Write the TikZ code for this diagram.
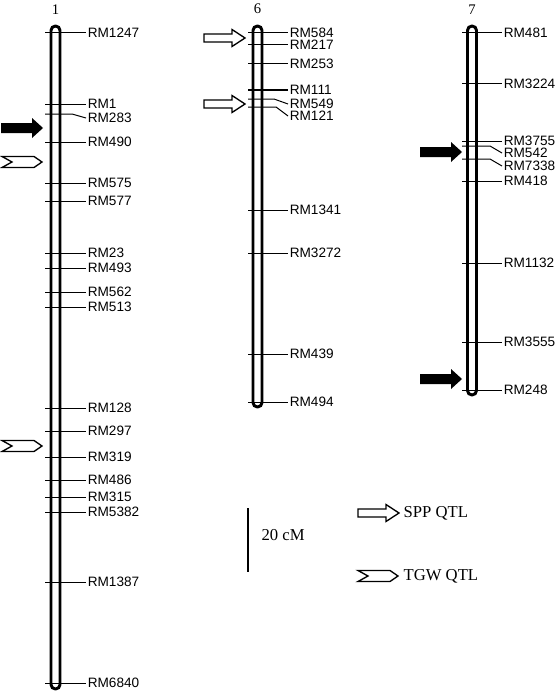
\documentclass[tikz,border=0pt]{standalone}
\usepackage{fontspec}
\setmainfont{Liberation Serif}
\newfontfamily\arialfont{Liberation Sans}
\usepackage{tikz}
\usetikzlibrary{calc}

\tikzset{
  blackqtl/.pic={\fill (-42,-5) -- (-11,-5) -- (-11,-10) -- (0,0) -- (-11,10) -- (-11,5) -- (-42,5) -- cycle;},
  sppqtl/.pic={\draw[line width=1pt] (-41,-4) -- (-13,-4) -- (-13,-8.5) -- (0,0) -- (-13,8.5) -- (-13,4) -- (-41,4) -- cycle;},
  tgwqtl/.pic={\draw[line width=1pt] (-40,-5.5) -- (-8,-5.5) -- (0,0) -- (-8,5.5) -- (-40,5.5) -- (-30,0) -- cycle;}
}

\begin{document}
\begin{tikzpicture}[x=0.75pt,y=-0.75pt,
  chrom/.style={line width=2.2pt,rounded corners=3.3pt},
  tick/.style={line width=0.75pt},
  mk/.style={anchor=west,inner sep=1pt,font=\arialfont\fontsize{10.2}{11}\selectfont},
  chnum/.style={font=\fontsize{11}{12}\selectfont,inner sep=0pt},
  legtext/.style={anchor=west,inner sep=1pt,font=\fontsize{12.5}{14}\selectfont}]
\useasboundingbox (0,0) rectangle (557,692);

% chromosome 1
\node[chnum] (n1) at (55.5,10) {1};
\draw[chrom] (51,26) rectangle (60,689);
\foreach \y/\m in {33/RM1247,104/RM1,142/RM490,183/RM575,201/RM577,253/RM23,268/RM493,
  292/RM562,307/RM513,408/RM128,431/RM297,457/RM319,480/RM486,497/RM315,512/RM5382,
  582/RM1387,683/RM6840}
  \draw[tick] (45,\y) -- (86,\y) node[mk] (c1-\m) {\m};
\draw[tick] (45,114) -- (72,114) -- (86,118) node[mk] (c1-RM283) {RM283};
\pic at (43,128) {blackqtl};
\pic at (42,162) {tgwqtl};
\pic at (42,446) {tgwqtl};

% chromosome 6
\node[chnum] (n6) at (257.5,9) {6};
\draw[chrom] (253,26) rectangle (262,407);
\foreach \y/\m in {33/RM584,45/RM217,64/RM253,90/RM111,210/RM1341,253/RM3272,354/RM439,402/RM494}
  \draw[tick] (248,\y) -- (288,\y) node[mk] (c6-\m) {\m};
\draw[tick] (248,99) -- (274,99) -- (288,104) node[mk] (c6-RM549) {RM549};
\draw[tick] (248,107) -- (276,107) -- (288,116) node[mk] (c6-RM121) {RM121};
\pic at (245,38) {sppqtl};
\pic at (245,104) {sppqtl};

% chromosome 7
\node[chnum] (n7) at (472,10) {7};
\draw[chrom] (467.5,26) rectangle (476.5,395);
\foreach \y/\m in {33/RM481,84/RM3224,141/RM3755,181/RM418,263/RM1132,342/RM3555,390/RM248}
  \draw[tick] (462,\y) -- (502,\y) node[mk] (c7-\m) {\m};
\draw[tick] (462,146) -- (490,146) -- (502,153) node[mk] (c7-RM542) {RM542};
\draw[tick] (462,159) -- (490,159) -- (502,166) node[mk] (c7-RM7338) {RM7338};
\pic at (462,152) {blackqtl};
\pic at (462,379) {blackqtl};

% scale and legend
\draw[line width=0.9pt] (248,508) -- (248,572);
\node[legtext] (scale) at (260,535) {20 cM};
\pic at (399,513) {sppqtl};
\node[legtext] (spp) at (402,513) {SPP QTL};
\pic at (398,576) {tgwqtl};
\node[legtext] (tgw) at (402,576) {TGW QTL};
\end{tikzpicture}
\end{document}
